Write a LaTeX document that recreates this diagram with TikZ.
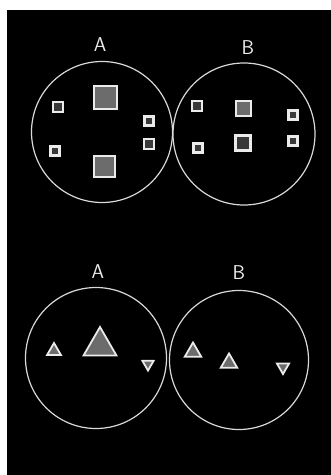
\documentclass[tikz,border=0pt]{standalone}
\usetikzlibrary{shapes.geometric}
\begin{document}
\begin{tikzpicture}[x=1pt,y=-1pt,
  ring/.style={circle,draw=white!85!black,line width=1.2pt,inner sep=0pt},
  lab/.style={text=white!92!black,font=\sffamily\fontsize{20}{20}\selectfont,inner sep=0pt},
  bigsq/.style={rectangle,draw=white!92!black,line width=2pt,fill=gray!85!black,inner sep=0pt},
  smsq/.style={rectangle,draw=white!92!black,line width=2.2pt,fill=gray!45!black,inner sep=0pt},
  tri/.style={regular polygon,regular polygon sides=3,draw=white!92!black,line width=1.8pt,fill=gray!85!black,inner sep=0pt},
  itri/.style={tri,shape border rotate=180}]
\fill[white] (0,0) rectangle (331,475);
\fill[black] (7,10) rectangle (331,475);
\useasboundingbox (0,0) rectangle (331,475);
% top
\node[lab] (la1) at (100,45) {A};
\node[lab] (lb1) at (248,48) {B};
\node[ring,minimum size=141] (ca1) at (102,132) {};
\node[ring,minimum size=142] (cb1) at (244,134) {};
\node[bigsq,minimum size=23] (s1) at (105,97) {};
\node[bigsq,minimum size=21] (s2) at (104,166) {};
\node[smsq,minimum size=10] (s3) at (58,107) {};
\node[smsq,minimum size=9] (s4) at (55,151) {};
\node[smsq,minimum size=9] (s5) at (149,121) {};
\node[smsq,minimum size=10] (s6) at (149,144) {};
\node[smsq,minimum size=10] (s7) at (197,106) {};
\node[bigsq,minimum size=15] (s8) at (243,108) {};
\node[smsq,minimum size=15,line width=3pt] (s9) at (243,143) {};
\node[smsq,minimum size=9] (s10) at (198,148) {};
\node[smsq,minimum size=9] (s11) at (293,115) {};
\node[smsq,minimum size=9] (s12) at (293,141) {};
% bottom
\node[lab] (la2) at (98,272) {A};
\node[lab] (lb2) at (239,273) {B};
\node[ring,minimum size=141] (ca2) at (96,358) {};
\node[ring,minimum size=139] (cb2) at (239,360) {};
\node[tri,minimum size=38] (t1) at (100,346) {};
\node[tri,minimum size=16] (t2) at (54,351) {};
\node[itri,minimum size=13] (t3) at (148,364) {};
\node[tri,minimum size=19] (t4) at (193,352) {};
\node[tri,minimum size=19] (t5) at (229,363) {};
\node[itri,minimum size=14] (t6) at (283,367) {};
\end{tikzpicture}
\end{document}
